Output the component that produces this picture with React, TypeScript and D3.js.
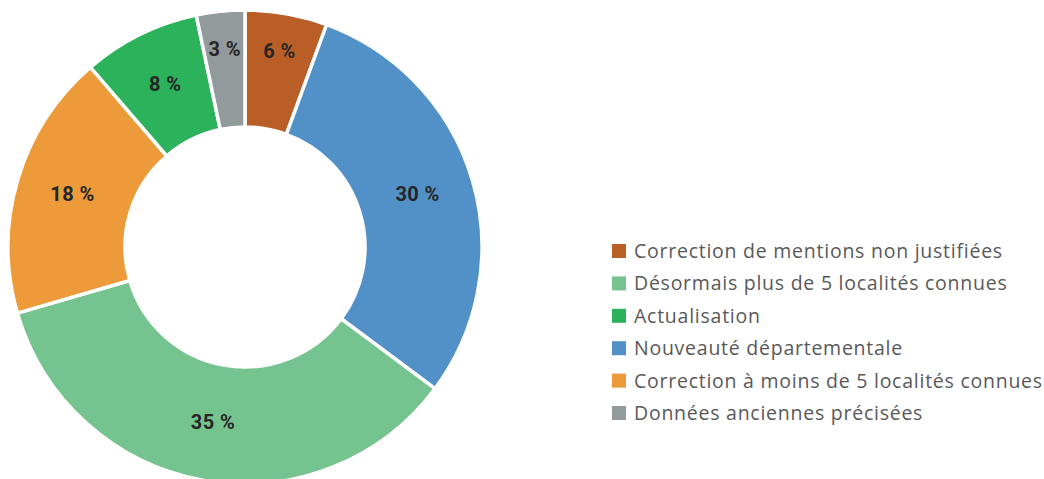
import React from "react";
import * as d3 from "d3";

const sliceNames = [
  "Correction de mentions non justifiées",
  "Nouveauté départementale",
  "Désormais plus de 5 localités connues",
  "Correction à moins de 5 localités connues",
  "Actualisation",
  "Données anciennes précisées",
];
const sliceValues = [5.6, 29.6, 35.3, 18.2, 8.0, 3.3];
const sliceColors = ["#B95E26", "#5191C8", "#75C48F", "#EC9A3A", "#2BB25A", "#929A9C"];
const legendOrder = [
  "Correction de mentions non justifiées",
  "Désormais plus de 5 localités connues",
  "Actualisation",
  "Nouveauté départementale",
  "Correction à moins de 5 localités connues",
  "Données anciennes précisées",
];

export default function App() {
  const W = 1044, H = 479;
  const cx = 245, cy = 247, rOuter = 237, rInner = 120;
  const data = sliceNames.map((n, i) => ({ name: n, value: sliceValues[i], color: sliceColors[i] }));
  const pie = d3.pie<any>().value((d) => d.value).sort(null);
  const arcs = pie(data);
  const arc = d3.arc<any>().innerRadius(rInner).outerRadius(rOuter);
  const colorOf = (n: string) => sliceColors[sliceNames.indexOf(n)];
  const legendY = d3.scalePoint<string>().domain(legendOrder).range([251, 413]);

  return (
    <svg width={W} height={H} style={{ position: "absolute", left: 0, top: 0 }}>
      <rect width={W} height={H} fill="#fff" />
      <g transform={`translate(${cx},${cy})`}>
        {arcs.map((a, i) => (
          <path key={i} d={arc(a) as string} fill={a.data.color} stroke="#fff" strokeWidth={3.5} strokeLinejoin="miter" />
        ))}
        {arcs.map((a, i) => {
          const span = a.endAngle - a.startAngle;
          const r = span < 0.5 ? 197 : 180;
          const [x, y] = d3.arc<any>().innerRadius(r).outerRadius(r).centroid(a);
          return (
            <text key={"l" + i} x={x} y={y - 2} dy="0.36em" textAnchor="middle"
              fontFamily="Roboto, sans-serif" fontWeight={700} fontSize={20} fill="#262626"
              letterSpacing={0.4}>
              {`${Math.round(a.data.value)} %`}
            </text>
          );
        })}
      </g>
      <g>
        {legendOrder.map((n) => (
          <g key={n} transform={`translate(612,${legendY(n)})`}>
            <rect x={0} y={-7} width={14} height={14} fill={colorOf(n)} />
            <text x={22} y={0} dy="0.36em" fontFamily="'Open Sans', sans-serif" fontSize={19.5}
              fill="#595959" letterSpacing={0.75}>
              {n}
            </text>
          </g>
        ))}
      </g>
    </svg>
  );
}
